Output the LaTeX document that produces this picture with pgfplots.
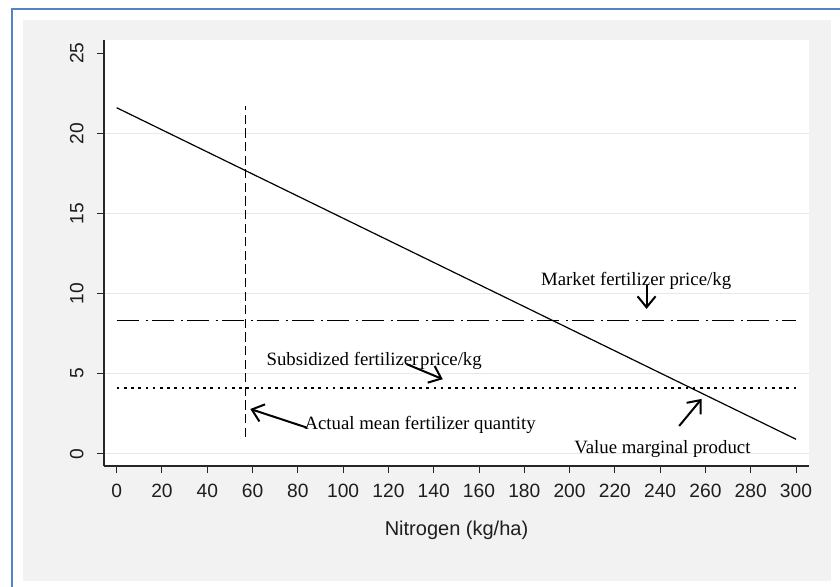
\documentclass[border=0pt]{standalone}
\usepackage{fontspec}
\setmainfont{Liberation Sans}
\newfontfamily\annfont{Liberation Serif}
\usepackage{pgfplots}
\pgfplotsset{compat=1.18}
\usetikzlibrary{arrows.meta}
\definecolor{panelgray}{RGB}{242,242,242}
\definecolor{borderblue}{RGB}{84,130,200}
\definecolor{gridgray}{RGB}{232,232,232}
\definecolor{ticktext}{RGB}{30,30,30}
\newcommand\tickfont{\fontsize{9.6}{11}\selectfont}
\begin{document}
\begin{tikzpicture}
\useasboundingbox (0,0) rectangle (420pt,-293.5pt);
\clip (0,0) rectangle (420pt,-293.5pt);
\fill[white] (0,0) rectangle (420pt,-293.5pt);
\draw[borderblue, line width=0.8pt] (6pt,-4.5pt) rectangle (440pt,-320pt);
\fill[panelgray] (11.5pt,-10pt) rectangle (415.5pt,-290.5pt);
\begin{axis}[
  at={(52pt,-233pt)}, anchor=south west,
  scale only axis, width=352.5pt, height=213pt,
  xmin=-5.61, xmax=305.74, ymin=-0.77, ymax=25.83,
  axis background/.style={fill=white},
  axis x line*=bottom, axis y line*=left,
  axis line style={line width=0.6pt, color=black!85},
  xtick={0,20,...,300}, ytick={0,5,10,15,20},
  extra y ticks={25}, extra y tick style={grid=none},
  ymajorgrids, grid style={gridgray, line width=0.5pt},
  tick align=outside, major tick length=3.5pt,
  tick style={black!85, line width=0.5pt},
  /pgf/number format/assume math mode=true,
  tick label style={font=\tickfont, text=ticktext},
  xticklabel style={anchor=north, inner sep=0pt, yshift=-5.3pt},
  yticklabel style={rotate=90, anchor=south, inner sep=0pt, yshift=6.5pt},
  xlabel={Nitrogen (kg/ha)},
  xlabel style={font=\fontsize{10}{12}\selectfont, text=ticktext, at={(axis description cs:0.5,0)}, anchor=center, yshift=-32pt},
  clip=false,
]
% value marginal product
\addplot[black, line width=0.6pt] coordinates {(0,21.6) (300,0.9)};
% actual mean fertilizer quantity
\addplot[black, line width=0.6pt, dash pattern=on 4.6pt off 2.2pt] coordinates {(57,1.05) (57,21.7)};
% market price
\addplot[black, line width=0.6pt, dash pattern=on 11.3pt off 3.2pt on 0.9pt off 2.1pt] coordinates {(0,8.3) (300,8.3)};
% subsidized price
\addplot[black, line width=1.3pt, dash pattern=on 1.35pt off 2.25pt] coordinates {(0,4.1) (300,4.1)};
% arrows
\addplot[black, line width=1pt, -{Straight Barb[length=5.5pt,width=9pt]}] coordinates {(234,10.54) (234,9.04)};
\addplot[black, line width=1pt, -{Straight Barb[length=5.5pt,width=9pt]}] coordinates {(128.1,5.59) (144,4.65)};
\addplot[black, line width=1pt, -{Straight Barb[length=5.5pt,width=9pt]}] coordinates {(83.9,1.63) (59,2.79)};
\addplot[black, line width=1pt, -{Straight Barb[length=5.5pt,width=9pt]}] coordinates {(248.4,1.73) (258.3,3.42)};
% labels
\node[anchor=base, inner sep=0pt, font=\annfont\fontsize{9.4}{11}\selectfont] at (axis cs:229.4,10.48) {Market fertilizer price/kg};
\node[anchor=base, inner sep=0pt, font=\annfont\fontsize{9.4}{11}\selectfont] at (axis cs:113.7,5.48) {Subsidized fertilizer\hspace{-1.5pt} price/kg};
\node[anchor=base, inner sep=0pt, font=\annfont\fontsize{9.4}{11}\selectfont] at (axis cs:134,1.52) {Actual mean fertilizer quantity};
\node[anchor=base, inner sep=0pt, font=\annfont\fontsize{9.4}{11}\selectfont] at (axis cs:241,-0.02) {Value marginal product};
\end{axis}
\end{tikzpicture}
\end{document}
